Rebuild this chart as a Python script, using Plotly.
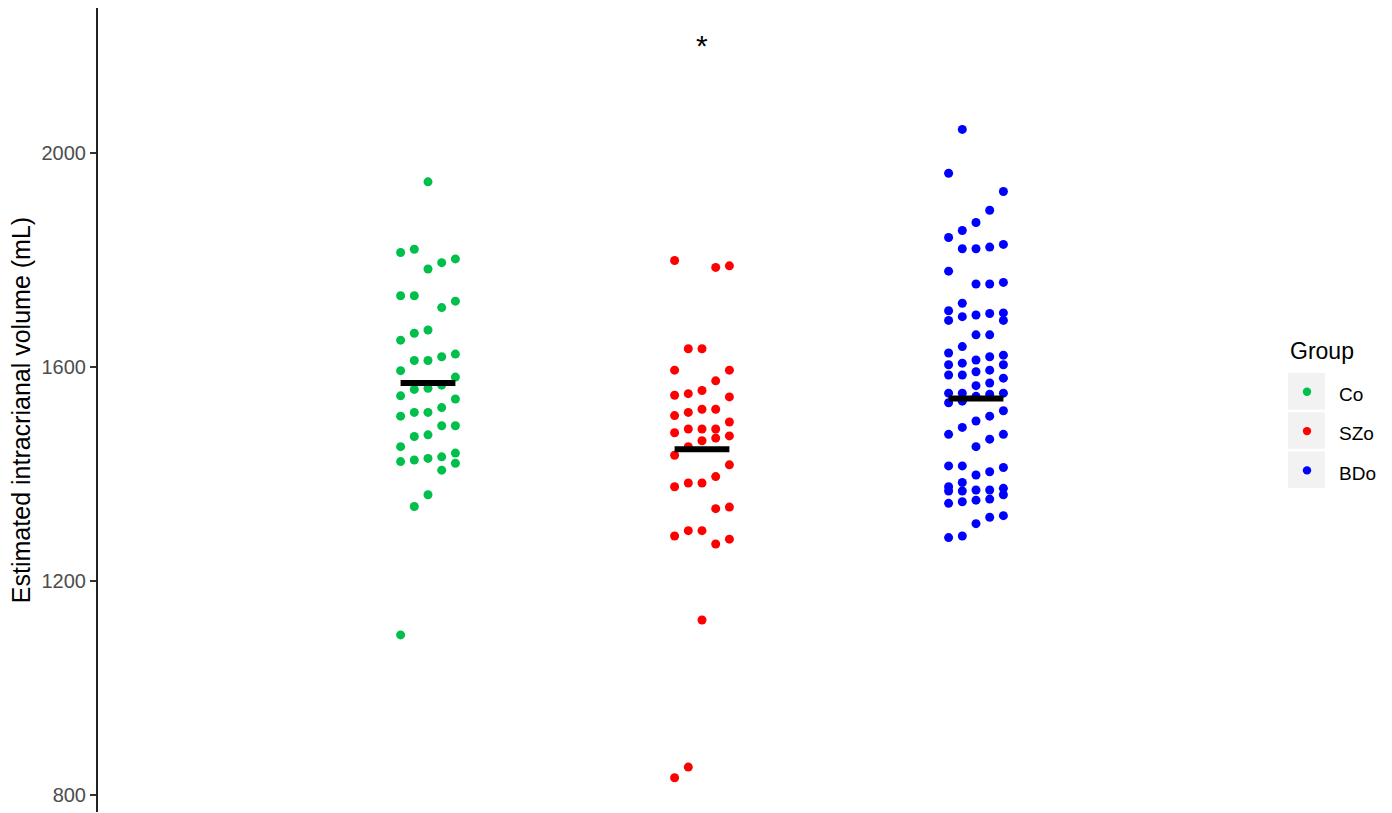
import numpy as np
import plotly.graph_objects as go

# ---------------- data ----------------
groups = ["Co", "SZo", "BDo"]
group_colors = ["#00C04B", "#FF0000", "#0000FF"]

co_values = [1099, 1339, 1361, 1407, 1420, 1423, 1426, 1429, 1432, 1439,
             1451, 1470, 1473, 1490, 1490, 1508, 1515, 1515, 1524, 1540,
             1546, 1558, 1560, 1566, 1581, 1593, 1612, 1612, 1619, 1624,
             1650, 1663, 1669, 1711, 1723, 1733, 1733, 1783, 1795, 1802,
             1814, 1820, 1946]

szo_values = [832, 852, 1127, 1269, 1278, 1284, 1294, 1294, 1335, 1338,
              1376, 1383, 1383, 1395, 1417, 1435, 1451, 1462, 1467, 1471,
              1477, 1484, 1484, 1484, 1497, 1509, 1515, 1521, 1521, 1544,
              1547, 1550, 1556, 1574, 1594, 1594, 1634, 1634, 1786, 1789,
              1799]

bdo_values = [1281, 1284, 1307, 1319, 1322, 1345, 1348, 1351, 1353, 1361,
              1368, 1368, 1370, 1370, 1373, 1376, 1384, 1398, 1404, 1412,
              1415, 1415, 1451, 1465, 1474, 1474, 1487, 1499, 1508, 1518,
              1533, 1536, 1545, 1549, 1551, 1551, 1551, 1565, 1570, 1579,
              1585, 1585, 1591, 1594, 1604, 1604, 1607, 1613, 1619, 1622,
              1626, 1638, 1660, 1660, 1687, 1687, 1694, 1697, 1700, 1701,
              1705, 1719, 1755, 1755, 1758, 1779, 1821, 1821, 1824, 1829,
              1842, 1855, 1870, 1893, 1928, 1962, 2044]

group_means = [1570, 1446, 1541]

y_tick_values = [800, 1200, 1600, 2000]
y_title = "Estimated intracrianal volume (mL)"
legend_title = "Group"
significance_label = "*"
significance_group = "SZo"
significance_y = 2200

all_values = [co_values, szo_values, bdo_values]

# ---------------- layout constants ----------------
W, H = 1392, 813
ML, MR, MT, MB = 98, 122, 8, 1
PW, PH = W - ML - MR, H - MT - MB
FONT = "Liberation Sans, Arial, sans-serif"
SLOT = 0.05
N_SLOTS = 5


def paper_x(px):
    return (px - ML) / PW


def paper_y(py):
    return (H - MB - py) / PH


def slot_offsets(vals):
    vals = np.asarray(vals, float)
    order = np.argsort(vals, kind="stable")
    s = np.empty(len(vals), int)
    s[order] = np.arange(len(vals)) % N_SLOTS - (N_SLOTS // 2)
    return s * SLOT


fig = go.Figure()

for i, (g, vals, col) in enumerate(zip(groups, all_values, group_colors)):
    xpos = i + 1 + slot_offsets(vals)
    fig.add_trace(go.Scatter(
        x=xpos, y=vals, mode="markers", name=g,
        marker=dict(color=col, size=9, line=dict(width=0)),
        showlegend=False,
    ))

half = SLOT * (N_SLOTS // 2)
for i, m in enumerate(group_means):
    fig.add_trace(go.Scatter(
        x=[i + 1 - half, i + 1 + half], y=[m, m], mode="lines",
        line=dict(color="black", width=6), showlegend=False,
        hoverinfo="skip",
    ))

annotations = [dict(
    x=groups.index(significance_group) + 1, y=significance_y,
    xref="x", yref="y", text=significance_label, showarrow=False,
    font=dict(family=FONT, size=30, color="black"),
)]

shapes = []
# ggplot-like legend drawn in paper coordinates
leg_left = 1288
box_top0 = 373
box_step = 39.3
box_h = 36.5
box_w = 37
annotations.append(dict(
    x=paper_x(leg_left), y=paper_y(351), xref="paper", yref="paper",
    xanchor="left", yanchor="middle", text=legend_title, showarrow=False,
    font=dict(family=FONT, size=23, color="black"),
))
for i, (g, col) in enumerate(zip(groups, group_colors)):
    top = box_top0 + i * box_step
    shapes.append(dict(
        type="rect", xref="paper", yref="paper",
        x0=paper_x(leg_left), x1=paper_x(leg_left + box_w),
        y0=paper_y(top + box_h), y1=paper_y(top),
        fillcolor="#F2F2F2", line=dict(width=0), layer="below",
    ))
    cx, cy, r = leg_left + 19, top + 18.8, 4.2
    shapes.append(dict(
        type="circle", xref="paper", yref="paper",
        x0=paper_x(cx - r), x1=paper_x(cx + r),
        y0=paper_y(cy + r), y1=paper_y(cy - r),
        fillcolor=col, line=dict(width=0),
    ))
    annotations.append(dict(
        x=paper_x(1337), y=paper_y(top + 21.5), xref="paper", yref="paper",
        xanchor="left", yanchor="middle", text=g, showarrow=False,
        font=dict(family=FONT, size=19, color="black"),
    ))

x0 = 1 - (428 - ML) / 274.0
x1 = x0 + PW / 274.0

fig.update_layout(
    width=W, height=H,
    margin=dict(l=ML, r=MR, t=MT, b=MB, autoexpand=False),
    paper_bgcolor="white", plot_bgcolor="white",
    font=dict(family=FONT),
    annotations=annotations, shapes=shapes,
    showlegend=False,
    xaxis=dict(range=[x0, x1], showgrid=False, zeroline=False,
               showticklabels=False, ticks="", showline=False),
    yaxis=dict(range=[768, 2271], tickvals=y_tick_values,
               showgrid=False, zeroline=False,
               showline=True, linecolor="#222222", linewidth=2,
               ticks="outside", ticklen=6, tickwidth=1.6, tickcolor="#333333",
               tickfont=dict(family=FONT, size=20, color="#4D4D4D"),
               title=dict(text=y_title, standoff=4,
                          font=dict(family=FONT, size=25, color="black"))),
)

fig.write_html("out.html",
               config={"displayModeBar": False},
               post_script="document.body.style.margin='0';")
